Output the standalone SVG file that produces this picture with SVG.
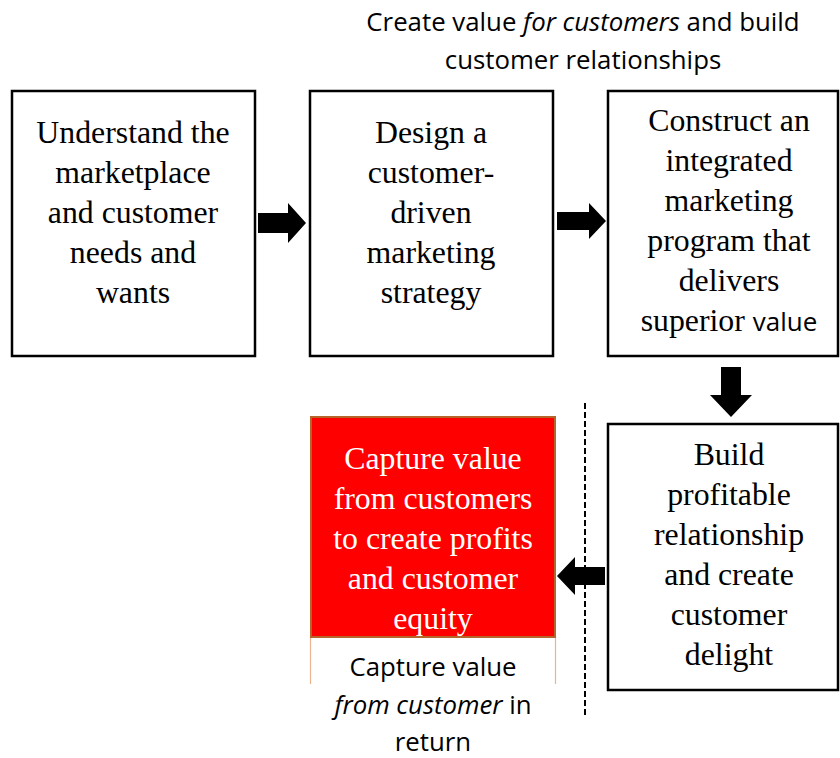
<svg xmlns="http://www.w3.org/2000/svg" width="840" height="758" viewBox="0 0 840 758">
  <style>
    .box { fill: #ffffff; stroke: #000000; stroke-width: 2.5; }
    .serif { font-family: "Liberation Serif", "Times New Roman", serif; font-size: 31.8px; fill: #000000; text-anchor: middle; }
    .light { fill: #ffffff; }
    .sans { font-family: "Open Sans", "Liberation Sans", sans-serif; font-size: 25.8px; fill: #000000; text-anchor: middle; }
    .arrow { fill: #000000; }
  </style>

  <!-- heading -->
  <g id="heading">
    <text class="sans" x="583" y="31">Create value <tspan font-style="italic">for customers</tspan> and build</text>
    <text class="sans" x="583" y="69">customer relationships</text>
  </g>

  <g id="understand">
    <rect class="box" x="12" y="91" width="243" height="265"/>
    <text class="serif" x="133" y="143">Understand the</text>
    <text class="serif" x="133" y="183">marketplace</text>
    <text class="serif" x="133" y="223">and customer</text>
    <text class="serif" x="133" y="263">needs and</text>
    <text class="serif" x="133" y="303">wants</text>
  </g>

  <g id="design">
    <rect class="box" x="310" y="91" width="243" height="265"/>
    <text class="serif" x="431" y="143">Design a</text>
    <text class="serif" x="431" y="183">customer-</text>
    <text class="serif" x="431" y="223">driven</text>
    <text class="serif" x="431" y="263">marketing</text>
    <text class="serif" x="431" y="303">strategy</text>
  </g>

  <g id="construct">
    <rect class="box" x="608" y="91" width="230" height="265"/>
    <text class="serif" x="729" y="131">Construct an</text>
    <text class="serif" x="729" y="171">integrated</text>
    <text class="serif" x="729" y="211">marketing</text>
    <text class="serif" x="729" y="251">program that</text>
    <text class="serif" x="729" y="291">delivers</text>
    <text class="serif" x="729" y="331">superior <tspan font-family="Open Sans, Liberation Sans, sans-serif" font-size="26px">value</tspan></text>
  </g>

  <g id="build">
    <rect class="box" x="608" y="424" width="230" height="266"/>
    <text class="serif" x="729" y="465">Build</text>
    <text class="serif" x="729" y="505">profitable</text>
    <text class="serif" x="729" y="545">relationship</text>
    <text class="serif" x="729" y="585">and create</text>
    <text class="serif" x="729" y="625">customer</text>
    <text class="serif" x="729" y="665">delight</text>
  </g>

  <g id="capture">
    <!-- thin side rules framing the caption under the red panel -->
    <line x1="310.5" y1="636" x2="310.5" y2="684" stroke="#E9B48E" stroke-width="1.2"/>
    <line x1="555.5" y1="636" x2="555.5" y2="684" stroke="#E9B48E" stroke-width="1.2"/>
    <rect x="311" y="417" width="244" height="220" fill="#FF0000" stroke="#B5652A" stroke-width="2"/>
    <text class="serif light" x="433" y="469">Capture value</text>
    <text class="serif light" x="433" y="509">from customers</text>
    <text class="serif light" x="433" y="549">to create profits</text>
    <text class="serif light" x="433" y="589">and customer</text>
    <text class="serif light" x="433" y="629">equity</text>
    <text class="sans" x="433" y="676">Capture value</text>
    <text class="sans" x="433" y="714"><tspan font-style="italic">from customer</tspan> in</text>
    <text class="sans" x="433" y="751">return</text>
  </g>

  <g id="connectors">
    <path class="arrow" d="M258,213 H288 V203 L306,223 L288,243 V233 H258 Z"/>
    <path class="arrow" d="M557,212 H589 V203 L606,221 L589,239 V230 H557 Z"/>
    <path class="arrow" d="M721,367 H741 V395 H752 L731,417 L710,395 H721 Z"/>
    <path class="arrow" d="M605,567 H575 V557 L557,576 L575,595 V585 H605 Z"/>
    <line x1="585" y1="403" x2="585" y2="715" stroke="#000000" stroke-width="2" stroke-dasharray="6 3"/>
  </g>
</svg>
